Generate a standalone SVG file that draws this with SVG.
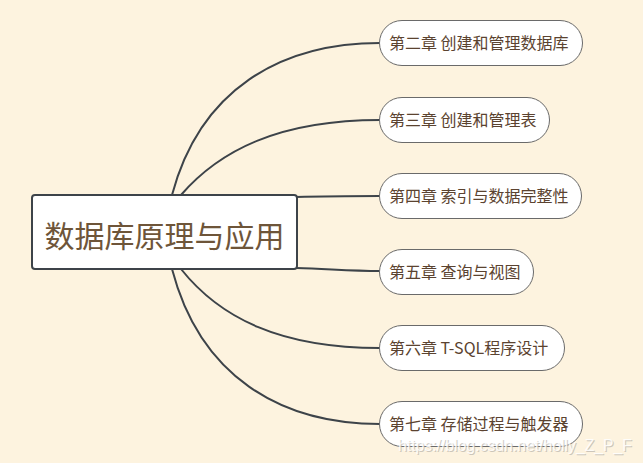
<svg xmlns="http://www.w3.org/2000/svg" width="643" height="463" viewBox="0 0 643 463">
<style>
.bg{fill:#fdf3df}
.conn path{fill:none;stroke:#3d4349;stroke-width:2}
.child rect{fill:#ffffff;stroke:#6a6a6a;stroke-width:1}
.child text{font-family:"Noto Sans CJK SC","Noto Sans",sans-serif;font-size:16px;fill:#5b4330}
.root rect{fill:#ffffff;stroke:#3d4349;stroke-width:2}
.root text{font-family:"Noto Sans CJK SC","Noto Sans",sans-serif;font-size:30px;fill:#6e5539}
.wm{font-family:"Liberation Sans",Arial,sans-serif;font-size:17px}
</style>
<rect class="bg" x="0" y="0" width="643" height="463"/>
<g id="connectors" class="conn">
<path d="M172,195 C200,90 280,43 380,43"/>
<path d="M181,195 C220,150 280,120 380,120"/>
<path d="M296,197 C330,196 350,196 380,196"/>
<path d="M296,268 C330,269 350,271 380,271"/>
<path d="M181,269 C220,318 280,348 380,348"/>
<path d="M172,269 C200,376 280,424 380,424"/>
</g>
<g id="root" class="root">
<rect x="32" y="195" width="265" height="74" rx="3"/>
<text x="164.5" y="247" text-anchor="middle">数据库原理与应用</text>
</g>
<g id="n1" class="child">
<rect x="379.5" y="20.5" width="203" height="45" rx="22.5"/>
<text x="389" y="49">第二章 创建和管理数据库</text>
</g>
<g id="n2" class="child">
<rect x="379.5" y="97.5" width="170" height="45" rx="22.5"/>
<text x="389" y="126">第三章 创建和管理表</text>
</g>
<g id="n3" class="child">
<rect x="379.5" y="173.5" width="202" height="45" rx="22.5"/>
<text x="389" y="202">第四章 索引与数据完整性</text>
</g>
<g id="n4" class="child">
<rect x="379.5" y="249.5" width="154" height="45" rx="22.5"/>
<text x="389" y="278">第五章 查询与视图</text>
</g>
<g id="n5" class="child">
<rect x="379.5" y="325.5" width="185" height="45" rx="22.5"/>
<text x="389" y="354">第六章 T-SQL程序设计</text>
</g>
<g id="n6" class="child">
<rect x="379.5" y="401.5" width="203" height="45" rx="22.5"/>
<text x="389" y="430">第七章 存储过程与触发器</text>
</g>
<text class="wm" x="399" y="452" fill="#b9b4ab" opacity="0.7" textLength="234" lengthAdjust="spacingAndGlyphs">https://blog.csdn.net/holly_Z_P_F</text>
<text class="wm" x="398" y="451" fill="#ffffff" opacity="0.85" textLength="234" lengthAdjust="spacingAndGlyphs">https://blog.csdn.net/holly_Z_P_F</text>
</svg>
